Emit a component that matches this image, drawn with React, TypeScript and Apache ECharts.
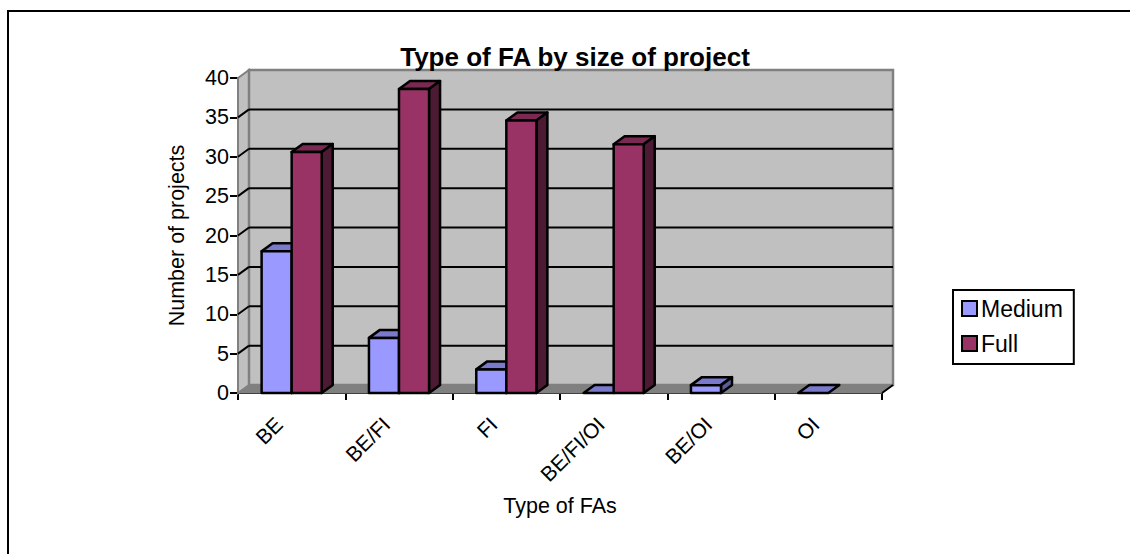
import React, { useEffect, useRef } from "react";
import * as echarts from "echarts";

const categories = ["BE", "BE/FI", "FI", "BE/FI/OI", "BE/OI", "OI"];
const mediumValues: (number | null)[] = [18, 7, 3, 0, 1, 0];
const fullValues: (number | null)[] = [30.6, 38.6, 34.6, 31.6, null, null];
const yTicks = [0, 5, 10, 15, 20, 25, 30, 35, 40];

const DX = 11;
const DY = 8;
const FONT = "Liberation Sans";

function shade(points: number[][], fill: string, stroke = "#000", lineWidth = 2.5) {
  return { type: "polygon", shape: { points }, style: { fill, stroke, lineWidth, lineJoin: "round" } };
}

function barRenderer(side: -1 | 1, front: string, top: string, right: string) {
  return (params: any, api: any) => {
    const cat = api.value(0);
    const val = api.value(1);
    if (val === null || val === undefined || Number.isNaN(val)) return { type: "group", children: [] };
    const [cx, y1] = api.coord([cat, val]);
    const [, y0] = api.coord([cat, 0]);
    const w = api.size([1, 0])[0] * 0.28;
    const x0 = side < 0 ? cx - w : cx;
    const x1 = x0 + w;
    const children: any[] = [];
    children.push(shade([[x0, y1], [x0 + DX, y1 - DY], [x1 + DX, y1 - DY], [x1, y1]], top));
    if (y0 - y1 > 0.5) {
      children.push(shade([[x1, y1], [x1 + DX, y1 - DY], [x1 + DX, y0 - DY], [x1, y0]], right));
      children.push(shade([[x0, y1], [x1, y1], [x1, y0], [x0, y0]], front));
    }
    return { type: "group", children };
  };
}

function wallRenderer(params: any, api: any) {
  const tick = api.value(0);
  const cs = params.coordSys;
  const left = cs.x;
  const right = cs.x + cs.width;
  const top = cs.y;
  const bottom = cs.y + cs.height;
  const children: any[] = [];
  if (params.dataIndex === 0) {
    children.push(
      { type: "polygon", shape: { points: [[left, top], [left + DX, top - DY], [left + DX, bottom - DY], [left, bottom]] }, style: { fill: "#c0c0c0", stroke: "#808080", lineWidth: 2 } },
      { type: "polygon", shape: { points: [[left + DX, top - DY], [right + DX, top - DY], [right + DX, bottom - DY], [left + DX, bottom - DY]] }, style: { fill: "#c0c0c0", stroke: "#808080", lineWidth: 2.5 } },
      { type: "polygon", shape: { points: [[left, bottom], [left + DX, bottom - DY], [right + DX, bottom - DY], [right, bottom]] }, style: { fill: "#808080", stroke: "#808080", lineWidth: 1 } },
      { type: "line", shape: { x1: right, y1: bottom, x2: right + DX, y2: bottom - DY }, style: { stroke: "#000", lineWidth: 2 } }
    );
  }
  const y = api.coord([0, tick])[1];
  if (tick > 0 && tick < 40) {
    children.push(
      { type: "line", shape: { x1: left + DX, y1: y - DY, x2: right + DX, y2: y - DY }, style: { stroke: "#000", lineWidth: 2 } },
      { type: "line", shape: { x1: left, y1: y, x2: left + DX, y2: y - DY }, style: { stroke: "#000", lineWidth: 2 } }
    );
  }
  return { type: "group", children };
}

export default function App() {
  const ref = useRef<HTMLDivElement>(null);
  useEffect(() => {
    const chart = echarts.init(ref.current!, null, { renderer: "svg" });
    const toData = (vals: (number | null)[]) => vals.map((v, i) => [i, v]);
    const textStyle = { fontFamily: FONT, color: "#000" };
    chart.setOption({
      animation: false,
      backgroundColor: "#fff",
      textStyle,
      title: {
        text: "Type of FA by size of project",
        left: 570,
        top: 39,
        textAlign: "center",
        textStyle: { ...textStyle, fontSize: 26, fontWeight: "bold" },
      },
      legend: {
        orient: "vertical",
        left: 953,
        top: 290,
        padding: [7, 11, 9, 8],
        itemGap: 12,
        itemWidth: 15,
        itemHeight: 15,
        icon: "rect",
        borderColor: "#000",
        borderWidth: 2,
        borderRadius: 0,
        selectedMode: false,
        data: ["Medium", "Full"],
        textStyle: { ...textStyle, fontSize: 23, padding: [0, 0, 0, -1] },
      },
      grid: { left: 238, right: 248, top: 78, bottom: 161 },
      xAxis: {
        type: "category",
        data: categories,
        name: "Type of FAs",
        nameLocation: "middle",
        nameGap: 102,
        nameTextStyle: { ...textStyle, fontSize: 21.5 },
        axisLine: { lineStyle: { color: "#000", width: 2 } },
        axisTick: { show: true, length: 7, lineStyle: { color: "#000", width: 2 } },
        axisLabel: { ...textStyle, rotate: 45, fontSize: 21, margin: 15, interval: 0, padding: [0, 18, 0, 0] },
        splitLine: { show: false },
      },
      yAxis: {
        type: "value",
        min: 0,
        max: 40,
        interval: 5,
        name: "Number of projects",
        nameLocation: "middle",
        nameGap: 50,
        nameTextStyle: { ...textStyle, fontSize: 21.5 },
        axisLine: { show: true, lineStyle: { color: "#000", width: 2 } },
        axisTick: { show: true, length: 8, lineStyle: { color: "#000", width: 2 } },
        axisLabel: { ...textStyle, fontSize: 21.5, margin: 9 },
        splitLine: { show: false },
      },
      series: [
        {
          type: "custom",
          name: "wall",
          silent: true,
          z: 1,
          data: yTicks.map((t) => [t]),
          encode: { y: 0 },
          renderItem: wallRenderer,
        },
        {
          type: "custom",
          name: "Medium",
          z: 2,
          data: toData(mediumValues),
          encode: { x: 0, y: 1 },
          itemStyle: { color: "#9999ff", borderColor: "#000", borderWidth: 2 },
          renderItem: barRenderer(-1, "#9999ff", "#7a7acc", "#5c5c99"),
        },
        {
          type: "custom",
          name: "Full",
          z: 3,
          data: toData(fullValues),
          encode: { x: 0, y: 1 },
          itemStyle: { color: "#993366", borderColor: "#000", borderWidth: 2 },
          renderItem: barRenderer(1, "#993366", "#7a2952", "#4d1a33"),
        },
      ],
      graphic: [
        { type: "line", shape: { x1: 7, y1: 11, x2: 1130, y2: 11 }, style: { stroke: "#000", lineWidth: 2 } },
        { type: "line", shape: { x1: 8, y1: 10, x2: 8, y2: 554 }, style: { stroke: "#000", lineWidth: 2 } },
      ],
    });
    return () => chart.dispose();
  }, []);
  return <div ref={ref} style={{ position: "fixed", left: 0, top: 0, width: 1130, height: 554 }} />;
}
